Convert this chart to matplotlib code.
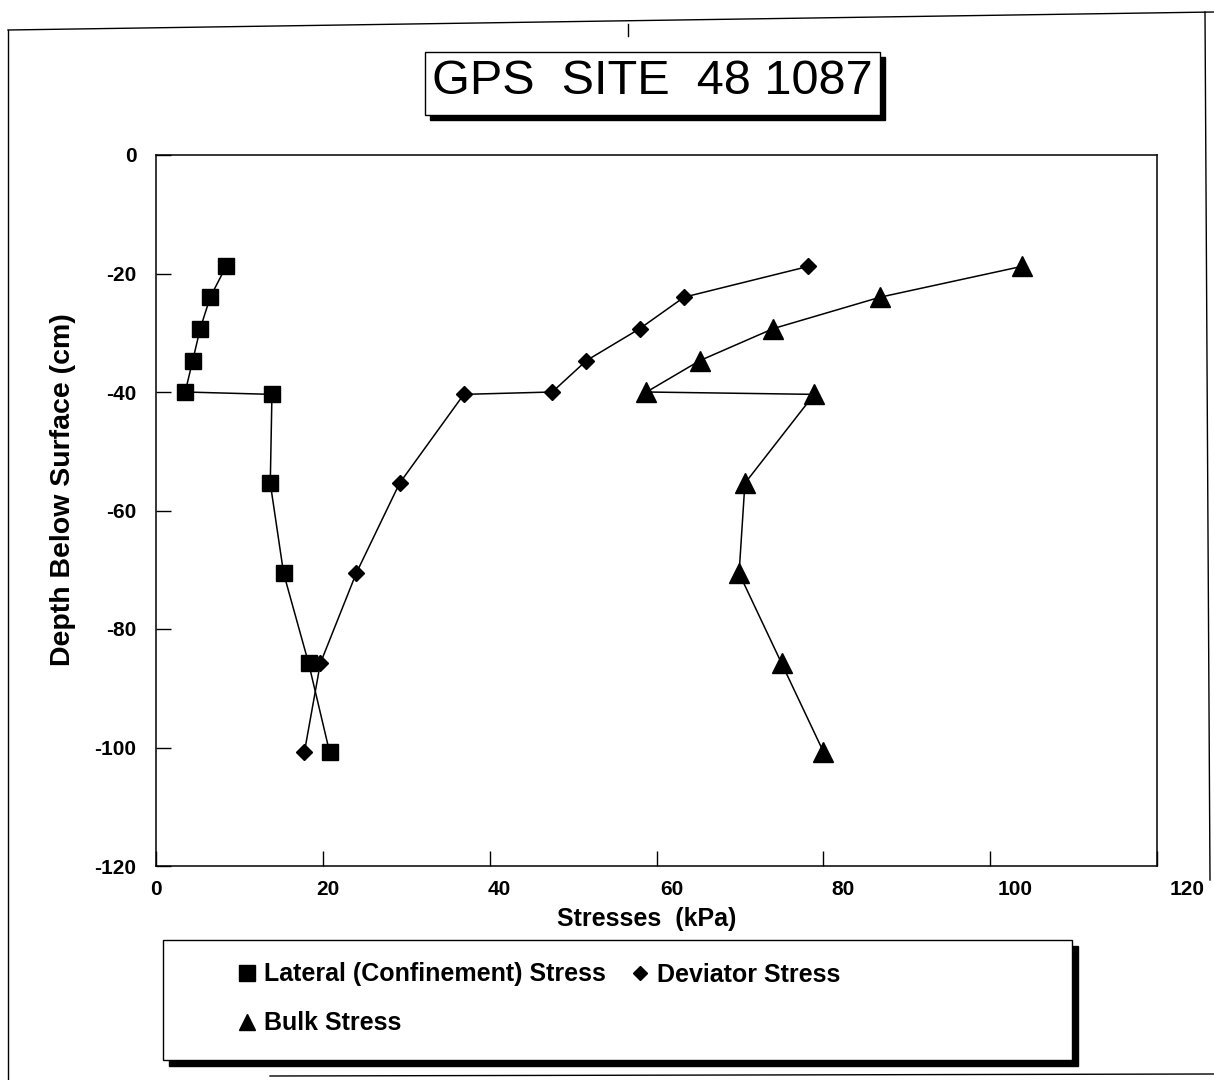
import numpy as np
import matplotlib
matplotlib.use("Agg")
import matplotlib.pyplot as plt
from matplotlib.lines import Line2D
from matplotlib.patches import Rectangle
from matplotlib.transforms import ScaledTranslation

# depth of each reading (cm), shared by the three series
depth = [-18.8, -24.0, -29.3, -34.7, -40.0, -40.4, -55.4, -70.6, -85.8, -100.7]

# stresses (kPa)
lateral = [8.4, 6.5, 5.3, 4.4, 3.5, 13.9, 13.7, 15.3, 18.3, 20.8]
deviator = [78.2, 63.3, 58.0, 51.6, 47.5, 36.9, 29.2, 24.0, 19.7, 17.8]
bulk = [103.8, 86.8, 74.0, 65.2, 58.8, 78.9, 70.6, 69.9, 75.0, 80.0]

x_ticks = [0, 20, 40, 60, 80, 100, 120]
y_ticks = [0, -20, -40, -60, -80, -100, -120]

title = "GPS  SITE  48 1087"
series_names = ["Lateral (Confinement) Stress", "Deviator Stress", "Bulk Stress"]

W, H = 1214, 1080
plt.rcParams['font.family'] = ['Liberation Sans', 'DejaVu Sans']
plt.rcParams['axes.unicode_minus'] = False

fig = plt.figure(figsize=(W / 100, H / 100), dpi=100)


def fx(px):
    return px / W


def fy(py):
    return 1 - py / H


ax = fig.add_axes([fx(156), fy(866), fx(1157) - fx(156), fy(155) - fy(866)])

ax.plot(lateral, depth, color='black', lw=1.1, marker='s', ms=12)
ax.plot(deviator, depth, color='black', lw=1.1, marker='D', ms=8.5)
ax.plot(bulk, depth, color='black', lw=1.1, marker='^', ms=14)

ax.set_xlim(0, 120)
ax.set_ylim(-120, 0)
ax.set_xticks(x_ticks)
ax.set_yticks(y_ticks)
ax.tick_params(direction='in', length=11, width=1.0, labelsize=15)
ax.tick_params(axis='x', pad=10)
ax.tick_params(axis='y', pad=14)
for lab in ax.get_xticklabels() + ax.get_yticklabels():
    lab.set_fontweight('bold')
# x labels drift to the right in the original
for t, v in zip(ax.get_xticklabels(), x_ticks):
    t.set_transform(t.get_transform() + ScaledTranslation(v * 0.25 / 100, 0, fig.dpi_scale_trans))
for s in ax.spines.values():
    s.set_linewidth(1.1)

ax.set_xlabel("Stresses  (kPa)", fontsize=18, fontweight='bold')
ax.set_ylabel("Depth Below Surface (cm)", fontsize=20.5, fontweight='bold')
ax.xaxis.set_label_coords(0.49, -0.058)
ax.yaxis.set_label_coords(-0.080, 0.529)


def shadow_box(x0, y0, x1, y1, off=5):
    fig.patches.append(Rectangle((fx(x0 + off), fy(y1 + off)), fx(x1) - fx(x0), fy(y0) - fy(y1),
                                 transform=fig.transFigure, facecolor='black', edgecolor='black'))
    fig.patches.append(Rectangle((fx(x0), fy(y1)), fx(x1) - fx(x0), fy(y0) - fy(y1),
                                 transform=fig.transFigure, facecolor='white', edgecolor='black', lw=1.0))


# title box
shadow_box(425, 52, 880, 115)
fig.text(fx(652), fy(82), title, ha='center', va='center', fontsize=35)

# legend box
shadow_box(163, 940, 1072, 1060, off=6)
handles = [Line2D([], [], ls='none', marker='s', ms=11, color='black'),
           Line2D([], [], ls='none', marker='^', ms=11, color='black'),
           Line2D([], [], ls='none', marker='D', ms=7, color='black')]
labels = [series_names[0], series_names[2], series_names[1]]
leg = fig.legend(handles, labels, loc='upper left', bbox_to_anchor=(fx(214), fy(940)),
                 ncol=2, frameon=False, handlelength=0.8, handletextpad=0.3,
                 columnspacing=0.95, labelspacing=1.0,
                 prop={'size': 18, 'weight': 'bold'})

# page frame lines from the scan
for xs, ys in [([8, 1214], [30, 12]), ([8, 8], [30, 1080]),
               ([1205, 1210], [12, 880]), ([270, 1214], [1076, 1074]),
               ([628, 628], [24, 36])]:
    fig.lines.append(Line2D([fx(v) for v in xs], [fy(v) for v in ys],
                            transform=fig.transFigure, color='black', lw=1.0))

fig.savefig("out.png", dpi=100)
